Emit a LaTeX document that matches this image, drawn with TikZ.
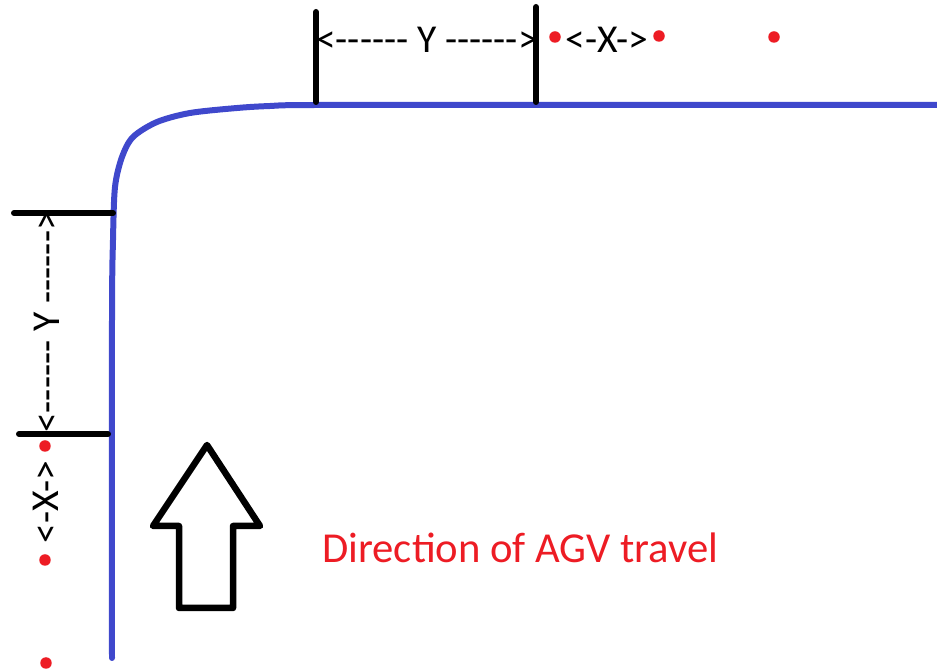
\documentclass[tikz,border=0pt]{standalone}
\usepackage{fontspec}
\setmainfont{Carlito}[Ligatures=TeXOff]
\usetikzlibrary{positioning}
\definecolor{track}{RGB}{63,72,204}
\definecolor{paintred}{RGB}{237,28,36}
\tikzset{
  agvpath/.style={draw=track, line width=0.12cm, line cap=round, line join=round},
  limit/.style={draw=black, line width=0.12cm, line cap=round},
  dimlabel/.style={font=\fontsize{22.5}{26}\selectfont, inner sep=0pt},
  stopdot/.style={circle, fill=paintred, inner sep=0pt, minimum size=0.23cm},
  bigarrow/.style={draw=black, line width=0.13cm, line join=round},
}
\begin{document}
\begin{tikzpicture}[x=0.02cm, y=-0.02cm]
  \useasboundingbox (0,0) rectangle (937,671);

  % the AGV track
  \draw[agvpath] plot[smooth, tension=0.5] coordinates {(112,658) (112,320) (113,240)
    (115,187) (122,157) (133,137) (157,122) (190,113) (237,108) (270,106) (317,105)
    (600,105) (937,105)};

  % limits of the Y zones
  \draw[limit] (316,12) -- (316,102);
  \draw[limit] (536,7) -- (536,102);
  \draw[limit] (14,213) -- (113,213);
  \draw[limit] (19,434) -- (108,434);

  \node[dimlabel] (ytop) at (427,40) {<------ Y ------>};
  \node[dimlabel, rotate=90] (yside) at (47,322) {<------ Y ------>};
  \node[dimlabel] (xtop) at (607,40) {<-X->};
  \node[dimlabel, rotate=90] (xside) at (46,502) {<-X->};

  % stop points
  \node[stopdot] (top1) at (555,37) {};
  \node[stopdot] (top2) at (659,36) {};
  \node[stopdot] (top3) at (774,37) {};
  \node[stopdot] (side1) at (45,446) {};
  \node[stopdot] (side2) at (45,560) {};
  \node[stopdot] (side3) at (46,663) {};

  % direction arrow
  \draw[bigarrow] (207,445) -- (260,526) -- (233,526) -- (233,608)
    -- (179,608) -- (179,526) -- (153,526) -- cycle;
  \node[font=\fontsize{24.3}{29}\selectfont, text=paintred, anchor=base west,
    inner sep=0pt] (travel) at (322,563) {Direction of AGV travel};
\end{tikzpicture}
\end{document}
